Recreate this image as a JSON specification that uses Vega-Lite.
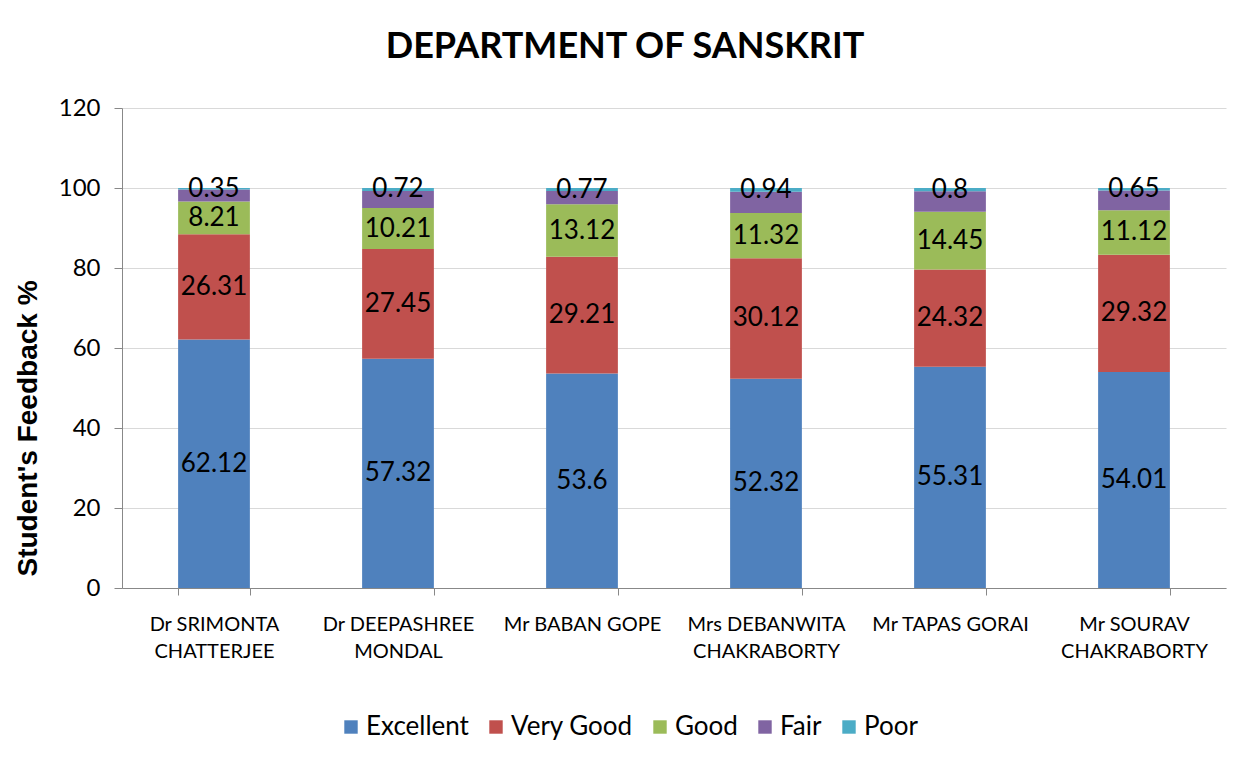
{
  "$schema": "https://vega.github.io/schema/vega-lite/v6.json",
  "autosize": "none",
  "width": 1104,
  "height": 480,
  "padding": {"left": 122, "top": 108, "right": 24, "bottom": 181},
  "background": "white",
  "config": {
    "font": "Lato",
    "view": {"stroke": null}
  },
  "title": {
    "text": "DEPARTMENT OF SANSKRIT",
    "fontSize": 36,
    "fontWeight": "bold",
    "font": "Lato",
    "color": "black",
    "anchor": "middle",
    "dx": -49,
    "offset": 30
  },
  "data": {
    "values": [
      {"teacher": "Dr SRIMONTA\nCHATTERJEE", "cat": "Excellent", "value": 62.12, "ord": 1},
      {"teacher": "Dr SRIMONTA\nCHATTERJEE", "cat": "Very Good", "value": 26.31, "ord": 2},
      {"teacher": "Dr SRIMONTA\nCHATTERJEE", "cat": "Good", "value": 8.21, "ord": 3},
      {"teacher": "Dr SRIMONTA\nCHATTERJEE", "cat": "Fair", "value": 3.01, "ord": 4},
      {"teacher": "Dr SRIMONTA\nCHATTERJEE", "cat": "Poor", "value": 0.35, "ord": 5},
      {"teacher": "Dr DEEPASHREE\nMONDAL", "cat": "Excellent", "value": 57.32, "ord": 1},
      {"teacher": "Dr DEEPASHREE\nMONDAL", "cat": "Very Good", "value": 27.45, "ord": 2},
      {"teacher": "Dr DEEPASHREE\nMONDAL", "cat": "Good", "value": 10.21, "ord": 3},
      {"teacher": "Dr DEEPASHREE\nMONDAL", "cat": "Fair", "value": 4.3, "ord": 4},
      {"teacher": "Dr DEEPASHREE\nMONDAL", "cat": "Poor", "value": 0.72, "ord": 5},
      {"teacher": "Mr BABAN  GOPE", "cat": "Excellent", "value": 53.6, "ord": 1},
      {"teacher": "Mr BABAN  GOPE", "cat": "Very Good", "value": 29.21, "ord": 2},
      {"teacher": "Mr BABAN  GOPE", "cat": "Good", "value": 13.12, "ord": 3},
      {"teacher": "Mr BABAN  GOPE", "cat": "Fair", "value": 3.3, "ord": 4},
      {"teacher": "Mr BABAN  GOPE", "cat": "Poor", "value": 0.77, "ord": 5},
      {"teacher": "Mrs DEBANWITA\nCHAKRABORTY", "cat": "Excellent", "value": 52.32, "ord": 1},
      {"teacher": "Mrs DEBANWITA\nCHAKRABORTY", "cat": "Very Good", "value": 30.12, "ord": 2},
      {"teacher": "Mrs DEBANWITA\nCHAKRABORTY", "cat": "Good", "value": 11.32, "ord": 3},
      {"teacher": "Mrs DEBANWITA\nCHAKRABORTY", "cat": "Fair", "value": 5.3, "ord": 4},
      {"teacher": "Mrs DEBANWITA\nCHAKRABORTY", "cat": "Poor", "value": 0.94, "ord": 5},
      {"teacher": "Mr TAPAS  GORAI", "cat": "Excellent", "value": 55.31, "ord": 1},
      {"teacher": "Mr TAPAS  GORAI", "cat": "Very Good", "value": 24.32, "ord": 2},
      {"teacher": "Mr TAPAS  GORAI", "cat": "Good", "value": 14.45, "ord": 3},
      {"teacher": "Mr TAPAS  GORAI", "cat": "Fair", "value": 5.12, "ord": 4},
      {"teacher": "Mr TAPAS  GORAI", "cat": "Poor", "value": 0.8, "ord": 5},
      {"teacher": "Mr SOURAV\nCHAKRABORTY", "cat": "Excellent", "value": 54.01, "ord": 1},
      {"teacher": "Mr SOURAV\nCHAKRABORTY", "cat": "Very Good", "value": 29.32, "ord": 2},
      {"teacher": "Mr SOURAV\nCHAKRABORTY", "cat": "Good", "value": 11.12, "ord": 3},
      {"teacher": "Mr SOURAV\nCHAKRABORTY", "cat": "Fair", "value": 4.9, "ord": 4},
      {"teacher": "Mr SOURAV\nCHAKRABORTY", "cat": "Poor", "value": 0.65, "ord": 5}
    ]
  },
  "transform": [
    {"stack": "value", "groupby": ["teacher"], "sort": [{"field": "ord", "order": "ascending"}], "as": ["y0", "y1"]}
  ],
  "encoding": {
    "x": {
      "field": "teacher",
      "type": "nominal",
      "sort": null,
      "scale": {"paddingInner": 0.61, "paddingOuter": 0.305},
      "axis": {
        "title": null,
        "labelAngle": 0,
        "labelExpr": "split(datum.label, '\\n')",
        "labelFontSize": 20,
        "labelLineHeight": 27,
        "labelColor": "black",
        "labelPadding": 19,
        "labelBaseline": "top",
        "domainColor": "#888888",
        "tickColor": "#888888",
        "tickBand": "extent",
        "tickSize": 7,
        "labelFont": "Lato"
      }
    }
  },
  "layer": [
    {
      "mark": {"type": "bar"},
      "encoding": {
        "y": {
          "field": "y0",
          "type": "quantitative",
          "scale": {"domain": [0, 120]},
          "axis": {
            "title": "Student's Feedback %",
            "titleFont": "Liberation Sans",
            "titleFontSize": 28,
            "titleFontWeight": "bold",
            "titleColor": "black",
            "titlePadding": 16,
            "titleY": 320,
            "values": [0, 20, 40, 60, 80, 100, 120],
            "labelFontSize": 24,
            "labelColor": "black",
            "labelPadding": 14,
            "labelFont": "Lato",
            "tickSize": 8,
            "tickColor": "#888888",
            "domainColor": "#888888",
            "gridColor": "#d9d9d9",
            "grid": true
          }
        },
        "y2": {"field": "y1"},
        "color": {
          "field": "cat",
          "type": "nominal",
          "sort": ["Excellent", "Very Good", "Good", "Fair", "Poor"],
          "scale": {
            "domain": ["Excellent", "Very Good", "Good", "Fair", "Poor"],
            "range": ["#4F81BD", "#C0504D", "#9BBB59", "#8064A2", "#4BACC6"]
          },
          "legend": {
            "title": null,
            "orient": "none",
            "direction": "horizontal",
            "legendX": 216,
            "legendY": 606,
            "symbolType": "square",
            "symbolSize": 180,
            "symbolStrokeWidth": 0,
            "labelFontSize": 26,
            "labelFont": "Lato",
            "labelColor": "black",
            "columnPadding": 14,
            "labelOffset": 2
          }
        }
      }
    },
    {
      "transform": [
        {"filter": "datum.cat !== 'Fair'"},
        {"fold": ["y0", "y1"], "as": ["edge", "pos"]}
      ],
      "mark": {"type": "text", "fontSize": 26, "color": "black", "font": "Lato"},
      "encoding": {
        "y": {"field": "pos", "type": "quantitative", "aggregate": "mean", "stack": null},
        "text": {"field": "value", "type": "quantitative"}
      }
    }
  ]
}
